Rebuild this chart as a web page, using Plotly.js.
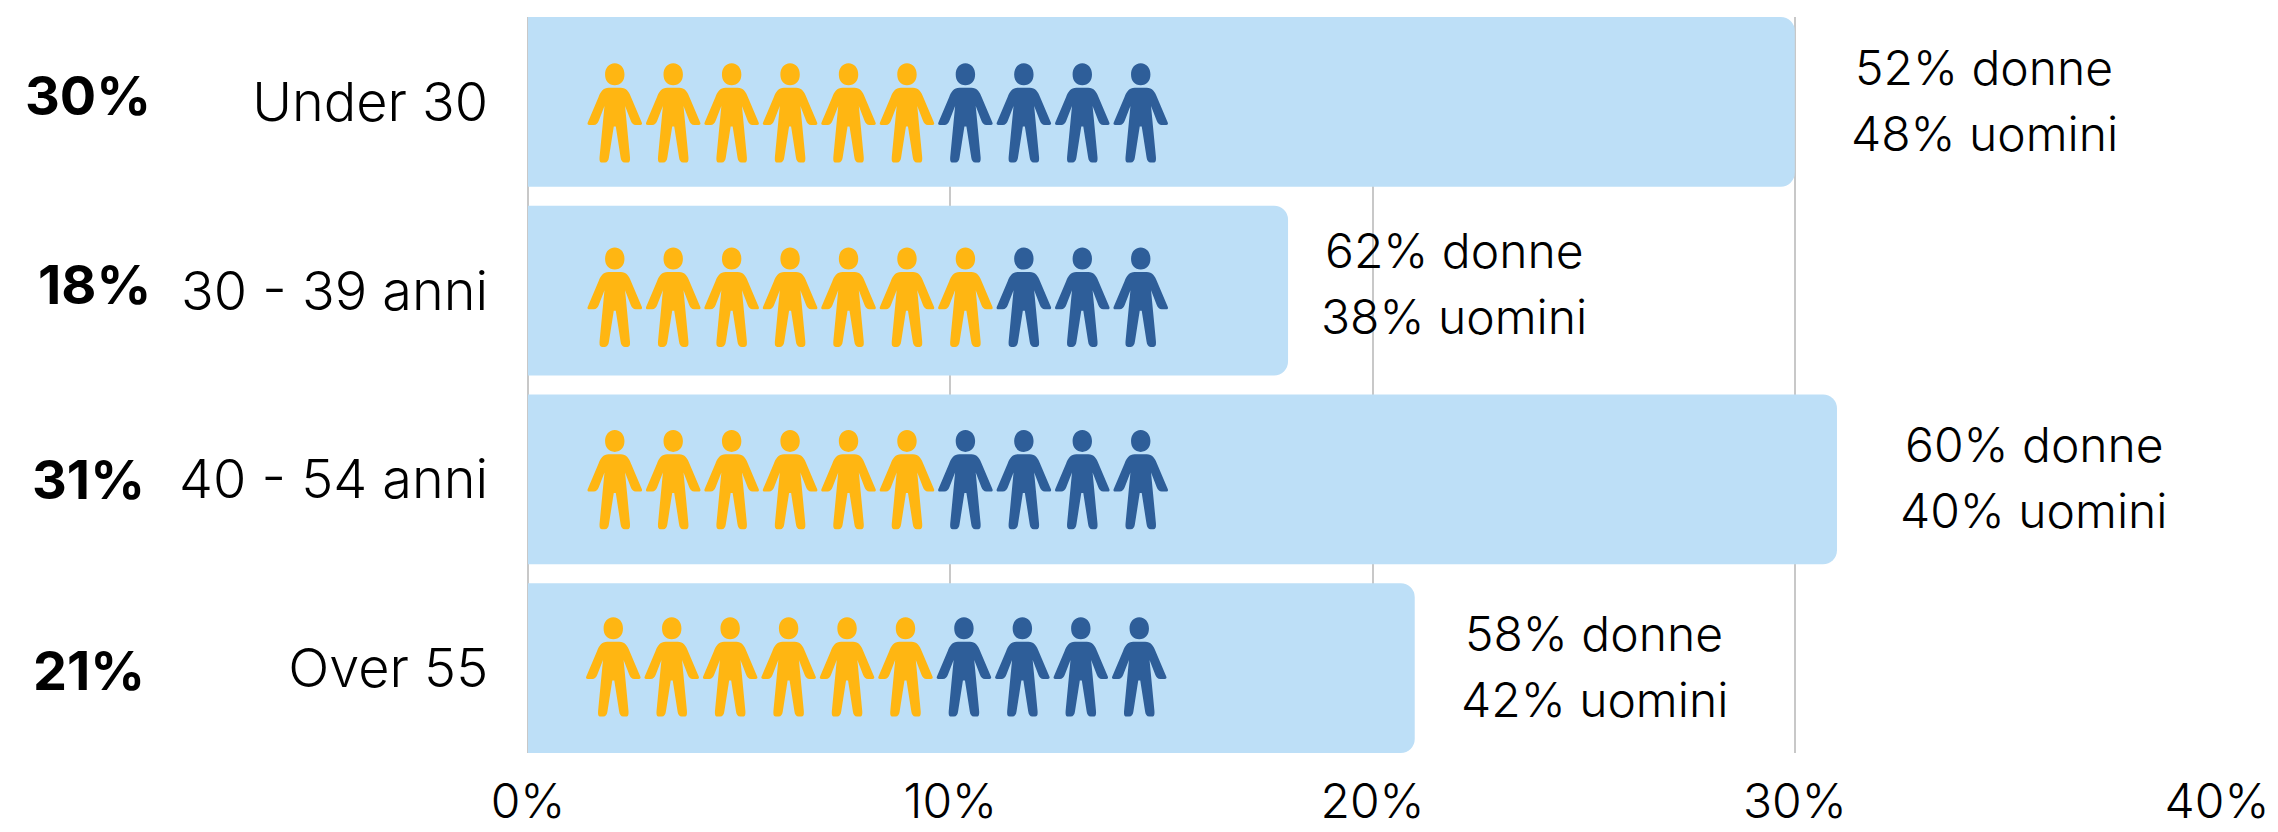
<!DOCTYPE html>
<html>
<head>
<meta charset="utf-8">
<script src="https://cdn.plot.ly/plotly-3.0.1.min.js"></script>
<style>html,body{margin:0;padding:0;background:#fff}</style>
</head>
<body>
<div id="chart" style="width:2278px;height:832px"></div>
<script>
var categories = ['Under 30', '30 - 39 anni', '40 - 54 anni', 'Over 55'];
var shareValues = [30, 18, 31, 21];
var shareLabels = ['30%', '18%', '31%', '21%'];
var womenPct = [52, 62, 60, 58];
var menPct = [48, 38, 40, 42];
var womenIcons = [6, 7, 6, 6];
var iconTotal = 10;
var xTickVals = [0, 10, 20, 30, 40];
var xTickText = ['0%', '10%', '20%', '30%', '40%'];

var FONT = 'Inter, sans-serif';
var BAR = '#BDDFF7', YEL = '#FFB612', BLU = '#2E5E99', GRID = '#C8C8C8';
var L = 528, R = 2217, T = 17, B = 753;
var pitch = (B - T) / 3.9;

// Person glyph, pixels, y downward, centred on its own middle
var glyph =
 'M0,-49.7 C6,-49.7 9.7,-44.7 9.7,-38.5 C9.7,-32 6,-27.7 0,-27.7 C-6,-27.7 -9.7,-32 -9.7,-38.5 C-9.7,-44.7 -6,-49.7 0,-49.7 Z ' +
 'M-6,-25.3 L6,-25.3 C11.5,-25.3 14.5,-21 16.2,-16 L27,9.5 C27.7,11 27,12 25.5,12 L21,12 C18.5,12 17,10 16,7.7 L10.3,-7 L15.2,44 C15.4,47.5 15.2,49.6 12.7,49.6 L10,49.6 C7.5,49.6 6.2,47.5 5.8,44.3 L1,13.5 L-1,13.5 L-5.8,44.3 C-6.2,47.5 -7.5,49.6 -10,49.6 L-12.7,49.6 C-15.2,49.6 -15.4,47.5 -15.2,44 L-10.3,-7 L-16,7.7 C-17,10 -18.5,12 -21,12 L-25.5,12 C-27,12 -27.7,11 -27,9.5 L-16.2,-16 C-14.5,-21 -11.5,-25.3 -6,-25.3 Z';
glyph = glyph.replace(/(-?[\d.]+),(-?[\d.]+)/g, function(m, a, b){ return a + ',' + (-parseFloat(b)); });

var iconStartPct = [2.055, 2.055, 2.055, 2.02];
var iconStepPct = 1.384;
var iconMiddlePx = [113, 297.3, 479.6, 667];
var shapes = [];
categories.forEach(function (c, r) {
  for (var i = 0; i < iconTotal; i++) {
    shapes.push({
      type: 'path', layer: 'above', xref: 'x', yref: 'y',
      xsizemode: 'pixel', ysizemode: 'pixel',
      xanchor: iconStartPct[r] + i * iconStepPct,
      yanchor: (iconMiddlePx[r] - T) / pitch - 0.45,
      path: glyph, fillcolor: i < womenIcons[r] ? YEL : BLU, line: {width: 0}
    });
  }
});

var ann = [];
var shareRight = [153, 153, 147, 147];
var shareDy = [6, 6, 0, -2];
var noteCentre = [1984, 1454, 2034, 1594];
var noteDy = [1.5, 7, 2, 2];
categories.forEach(function (c, r) {
  ann.push({xref: 'paper', yref: 'y', x: (shareRight[r] - L) / (R - L), y: r, yshift: shareDy[r],
    text: shareLabels[r], showarrow: false, xanchor: 'right', yanchor: 'middle',
    font: {family: FONT, size: 54, color: '#000', weight: 700}});
  [womenPct[r] + '% donne', menPct[r] + '% uomini'].forEach(function (t, k) {
    ann.push({xref: 'paper', yref: 'y', x: (noteCentre[r] - L) / (R - L), y: r,
      yshift: noteDy[r] + (k === 0 ? 33 : -33),
      text: t, showarrow: false, xanchor: 'center', yanchor: 'middle',
      font: {family: FONT, size: 48, color: '#000', weight: 300}});
  });
});

Plotly.newPlot('chart', [{
  type: 'bar', orientation: 'h', y: [0, 1, 2, 3], x: shareValues,
  marker: {color: BAR, cornerradius: 14, line: {width: 0}},
  hoverinfo: 'skip'
}], {
  width: 2278, height: 832, showlegend: false,
  margin: {l: L, r: 2278 - R, t: T, b: 832 - B, pad: 0},
  paper_bgcolor: '#fff', plot_bgcolor: '#fff', bargap: 0.1,
  font: {family: FONT, color: '#000'},
  xaxis: {range: [0, 40], tickmode: 'array', tickvals: xTickVals, ticktext: xTickText,
    showgrid: true, gridcolor: GRID, gridwidth: 2, zeroline: true, zerolinecolor: GRID, zerolinewidth: 2,
    showline: false, ticks: 'outside', ticklen: 6, tickcolor: 'rgba(0,0,0,0)',
    tickfont: {family: FONT, size: 48, weight: 300}},
  yaxis: {range: [3.45, -0.45], tickmode: 'array', tickvals: [0, 1, 2, 3], ticktext: categories,
    showgrid: false, zeroline: false, showline: false, ticks: 'outside', ticklen: 28, tickcolor: 'rgba(0,0,0,0)',
    tickfont: {family: FONT, size: 54, weight: 300}},
  shapes: shapes, annotations: ann
}, {displayModeBar: false, staticPlot: true});
</script>
</body>
</html>
